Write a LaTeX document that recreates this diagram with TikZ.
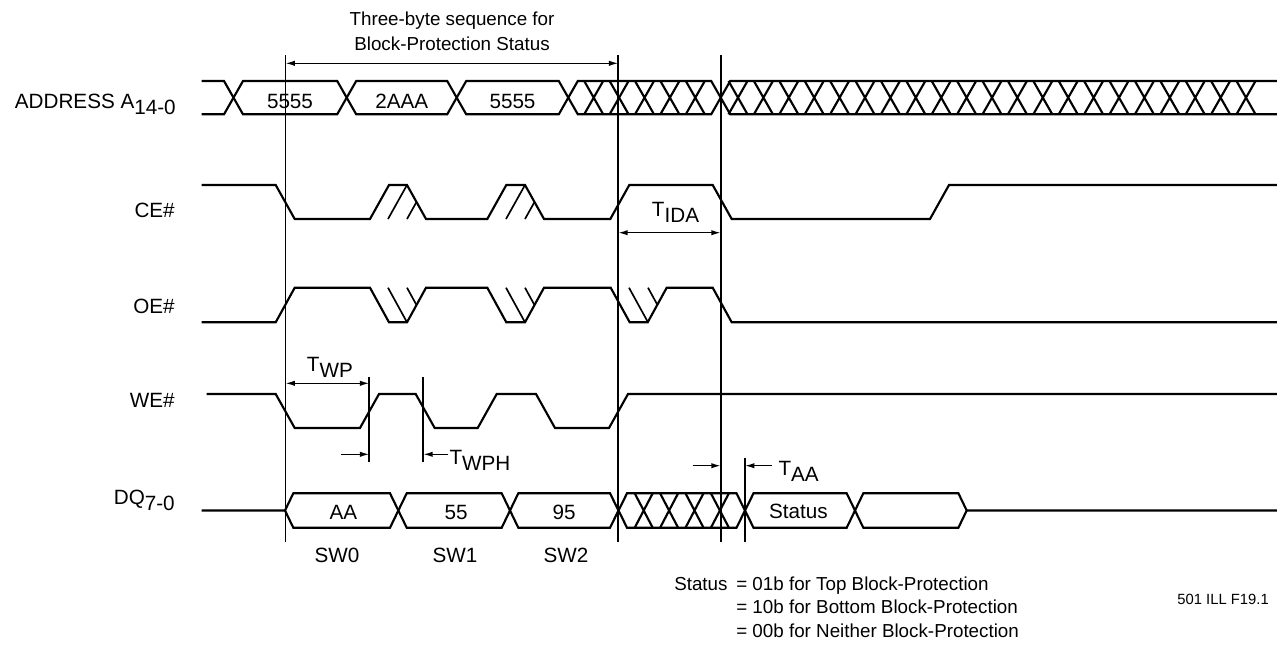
\documentclass[tikz,border=0pt]{standalone}
\usepackage{fontspec}
\setmainfont{Liberation Sans}
\usetikzlibrary{arrows.meta, positioning}

\newcommand{\lowsub}[1]{\raisebox{-0.3em}{#1}}

\begin{document}
\begin{tikzpicture}[
    x=0.75pt, y=-0.75pt,
    wave/.style={line width=1.6pt, line join=miter},
    hatch/.style={line width=1.25pt},
    cue/.style={line width=1.35pt},
    dim/.style={{Latex[length=7pt,width=4pt]}-{Latex[length=7pt,width=4pt]}, line width=1.0pt},
    ptr/.style={-{Latex[length=7pt,width=4pt]}, line width=1.0pt},
    sig/.style={anchor=base east, inner sep=0pt, font=\fontsize{15.5}{18}\selectfont},
    val/.style={anchor=base, inner sep=0pt, font=\fontsize{15.5}{18}\selectfont},
    tlab/.style={anchor=base west, inner sep=0pt, font=\fontsize{15.5}{18}\selectfont},
    note/.style={inner sep=0pt, font=\fontsize{14.1}{17.6}\selectfont},
]
  \useasboundingbox (0,0) rectangle (1277,644);

  %% ---- title over the three-byte sequence ----
  %% (base anchor of a two-line node = last line)
  \node[note, anchor=base, align=center, font=\fontsize{14.1}{19.1}\selectfont]
       (title) at (452,50.5) {Three-byte sequence for\\Block-Protection Status};

  %% ---- signal names ----
  \node[sig] (lAddr) at (176,108.3) {ADDRESS A\lowsub{14-0}};
  \node[sig] (lCE)   at (175,217)   {CE\#};
  \node[sig] (lOE)   at (175,313)   {OE\#};
  \node[sig] (lWE)   at (175,407.7) {WE\#};
  \node[sig] (lDQ)   at (175,504)   {DQ\lowsub{7-0}};

  %% ---- ADDRESS bus ----
  \draw[wave] (201.7,81) -- (224,81) -- (243,114.3) -- (337.2,114.3) -- (356.2,81)
              -- (447.2,81) -- (466.2,114.3) -- (558.8,114.3) -- (577.8,81)
              -- (711.2,81) -- (730.2,114.3) -- (1277,114.3);
  \draw[wave] (201.7,114.3) -- (224,114.3) -- (243,81) -- (337.2,81) -- (356.2,114.3)
              -- (447.2,114.3) -- (466.2,81) -- (558.8,81) -- (577.8,114.3)
              -- (711.2,114.3) -- (730.2,81) -- (1277,81);
  \foreach \x in {593.7,619.1,644.5,669.9,695.3}
    \draw[wave] (\x-9.5,81) -- (\x+9.5,114.3) (\x-9.5,114.3) -- (\x+9.5,81);
  \foreach \i in {0,...,20}
    \draw[wave] (738+25.4*\i-9.5,81) -- (738+25.4*\i+9.5,114.3)
                (738+25.4*\i-9.5,114.3) -- (738+25.4*\i+9.5,81);
  \node[val] (a1) at (290,108.3) {5555};
  \node[val] (a2) at (401.7,108.3) {2AAA};
  \node[val] (a3) at (512.5,108.3) {5555};

  %% ---- CE# ----
  \draw[wave] (201.7,185) -- (275.7,185) -- (294.7,219) -- (370,219) -- (389,185)
              -- (407,185) -- (426,219) -- (487.3,219) -- (506.3,185) -- (525,185)
              -- (544,219) -- (610.3,219) -- (629.3,185) -- (712.7,185) -- (731.7,219)
              -- (930,219) -- (949,185) -- (1277,185);
  \draw[hatch] (388,219) -- (407,185) (407,219) -- (416.5,202)
               (506,219) -- (525,185) (525,219) -- (534.5,202);

  %% ---- OE# ----
  \draw[wave] (201.7,322.3) -- (275.7,322.3) -- (294.7,287.7) -- (370,287.7) -- (389,322.3)
              -- (407,322.3) -- (426,287.7) -- (487.3,287.7) -- (506.3,322.3) -- (525,322.3)
              -- (544,287.7) -- (610.7,287.7) -- (629.7,322.3) -- (647.7,322.3)
              -- (666.7,287.7) -- (712.7,287.7) -- (731.7,322.3) -- (1277,322.3);
  \draw[hatch] (388,287.7) -- (407,322.3) (407,287.7) -- (416.5,305)
               (506,287.7) -- (525,322.3) (525,287.7) -- (534.5,305)
               (629,287.7) -- (648,322.3) (648,287.7) -- (657.5,305);

  %% ---- WE# ----
  \draw[wave] (206.7,394) -- (275.7,394) -- (294.7,428) -- (360,428) -- (379,394)
              -- (415.7,394) -- (434.7,428) -- (477.7,428) -- (496.7,394) -- (536,394)
              -- (555,428) -- (609,428) -- (628,394) -- (1277,394);

  %% ---- DQ bus ----
  \draw[wave] (201.7,510.5) -- (285,510.5) -- (293.3,493.3) -- (390,493.3) -- (406.7,527.7)
              -- (501.7,527.7) -- (518.3,493.3) -- (610,493.3) -- (627,527.7)
              -- (736.5,527.7) -- (753.5,493.3) -- (846.7,493.3) -- (863.3,527.7)
              -- (958.4,527.7) -- (966.7,510.5) -- (1277,510.5);
  \draw[wave] (285,510.5) -- (293.3,527.7) -- (390,527.7) -- (406.7,493.3)
              -- (501.7,493.3) -- (518.3,527.7) -- (610,527.7) -- (627,493.3)
              -- (736.5,493.3) -- (753.5,527.7) -- (846.7,527.7) -- (863.3,493.3)
              -- (958.4,493.3) -- (966.7,510.5);
  \foreach \x in {643.7,669.1,694.5,719.9}
    \draw[wave] (\x-9,493.3) -- (\x+9,527.7) (\x-9,527.7) -- (\x+9,493.3);
  \node[val] (d1) at (343.3,519) {AA};
  \node[val] (d2) at (456,519) {55};
  \node[val] (d3) at (564,519) {95};
  \node[val] (d4) at (798.3,518.5) {Status};

  %% ---- cycle markers ----
  \coordinate (mA)   at (285.5,55);
  \coordinate (mB)   at (618.3,55);
  \coordinate (mC)   at (720.7,55);
  \coordinate (mD)   at (745,458);
  \coordinate (mWP)  at (369.3,377.3);
  \coordinate (mWPH) at (423.3,377.3);
  \draw[cue] (mA) -- ++(0,487);
  \draw[cue] (mB) -- ++(0,487);
  \draw[cue] (mC) -- ++(0,487);
  \draw[cue] (mD) -- ++(0,84);
  \draw[cue] (mWP) -- ++(0,84.4);
  \draw[cue] (mWPH) -- ++(0,84.4);

  %% ---- timing arrows ----
  \coordinate (ySeq) at (0,63.3);
  \coordinate (yIDA) at (0,232.7);
  \coordinate (yWP)  at (0,383.3);
  \coordinate (yWPH) at (0,454.3);
  \coordinate (yAA)  at (0,465.7);
  \coordinate (wpIn)  at (341,454.3);
  \coordinate (wphIn) at (448.3,454.3);
  \coordinate (aaIn)  at (692.7,465.7);
  \coordinate (aaOut) at (771.7,465.7);
  \draw[dim] (mA |- ySeq) -- (mB |- ySeq);
  \draw[dim] (mB |- yIDA) -- (mC |- yIDA);
  \draw[dim] (mA |- yWP) -- (mWP |- yWP);
  \draw[ptr] (wpIn) -- (mWP |- yWPH);
  \draw[ptr] (wphIn) -- (mWPH |- yWPH);
  \draw[ptr] (aaIn) -- (mC |- yAA);
  \draw[ptr] (aaOut) -- (mD |- yAA);
  \node[tlab] (tIDA) at (651.7,216.7) {T\lowsub{IDA}};
  \node[tlab] (tWP)  at (306.7,371.7) {T\lowsub{WP}};
  \node[tlab] (tWPH) at (449.3,464)   {T\lowsub{WPH}};
  \node[tlab] (tAA)  at (778.3,475)   {T\lowsub{AA}};

  %% ---- write cycles ----
  \node[val] (sw0) at (337,562) {SW0};
  \node[val] (sw1) at (455,562) {SW1};
  \node[val] (sw2) at (566,562) {SW2};

  %% ---- notes ----
  \node[note, anchor=base west] (stat) at (674,590) {Status};
  \node[note, anchor=base west, align=left, font=\fontsize{14.1}{17.6}\selectfont]
       (codes) at (736,637) {= 01b for Top Block-Protection\\= 10b for Bottom Block-Protection\\= 00b for Neither Block-Protection};
  \node[note, anchor=base east, font=\fontsize{11.1}{13}\selectfont] (fig) at (1269,604) {501 ILL F19.1};

\end{tikzpicture}
\end{document}
